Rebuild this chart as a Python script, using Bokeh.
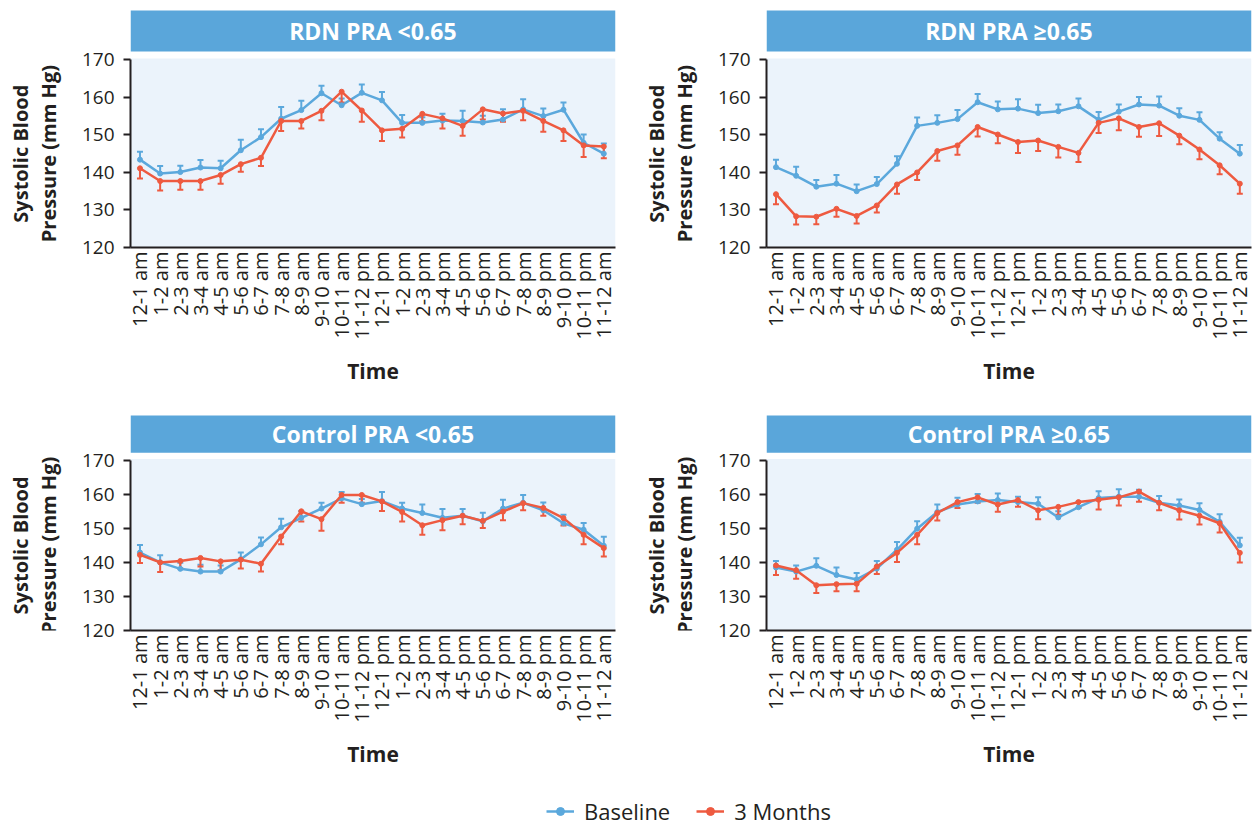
from math import pi
from bokeh.plotting import figure
from bokeh.models import (ColumnDataSource, FixedTicker, Label, Whisker, BoxAnnotation,
                          TeeHead, Legend, LegendItem, Range1d)
from bokeh.layouts import column, row
from bokeh.embed import file_html
from bokeh.resources import INLINE

hours = ["12-1 am", "1-2 am", "2-3 am", "3-4 am", "4-5 am", "5-6 am", "6-7 am", "7-8 am",
         "8-9 am", "9-10 am", "10-11 am", "11-12 pm", "12-1 pm", "1-2 pm", "2-3 pm", "3-4 pm",
         "4-5 pm", "5-6 pm", "6-7 pm", "7-8 pm", "8-9 pm", "9-10 pm", "10-11 pm", "11-12 am"]
y_ticks = [120, 130, 140, 150, 160, 170]
titles = ["RDN PRA <0.65", "RDN PRA \u22650.65", "Control PRA <0.65", "Control PRA \u22650.65"]
series_names = ["Baseline", "3 Months"]
y_title = "Systolic Blood\nPressure (mm Hg)"
x_title = "Time"

tl_base = [143.4, 139.7, 140.1, 141.3, 141.1, 145.9, 149.4, 154.3, 156.6, 161.1, 157.9, 161.2,
           159.2, 153.2, 153.2, 153.8, 153.7, 153.3, 154.1, 156.8, 155.0, 156.7, 147.9, 145.0]
tl_base_err = [2.1, 2.0, 1.7, 2.0, 2.0, 2.8, 2.1, 3.1, 2.5, 2.0, 1.8, 2.2,
               2.2, 2.1, 1.5, 1.8, 2.7, 1.8, 2.7, 2.7, 2.0, 1.9, 2.2, 2.7]
tl_3m = [141.1, 137.7, 137.7, 137.7, 139.3, 142.2, 143.9, 153.7, 153.7, 156.4, 161.5, 156.5,
         151.2, 151.6, 155.6, 154.4, 152.4, 156.8, 155.7, 156.4, 153.7, 151.2, 147.2, 146.9]
tl_3m_err = [2.7, 2.5, 2.3, 2.3, 2.3, 2.0, 2.2, 2.7, 2.0, 2.5, 2.9, 3.0,
             2.8, 2.3, 2.0, 2.7, 2.6, 2.7, 2.2, 2.5, 2.9, 2.8, 3.1, 3.1]

tr_base = [141.4, 139.1, 136.2, 137.0, 135.0, 136.9, 142.3, 152.4, 153.2, 154.2, 158.7, 156.8,
           157.0, 155.8, 156.3, 157.6, 154.0, 156.2, 158.1, 157.8, 155.1, 154.0, 149.0, 145.0]
tr_base_err = [2.0, 2.4, 1.8, 2.3, 1.8, 1.9, 2.0, 2.2, 2.0, 2.4, 2.2, 2.1,
               2.5, 2.2, 1.8, 2.1, 2.1, 1.9, 2.0, 2.4, 2.0, 2.0, 1.7, 2.3]
tr_3m = [134.2, 128.3, 128.2, 130.3, 128.4, 131.2, 136.8, 140.0, 145.7, 147.2, 152.1, 150.1,
         148.1, 148.5, 146.8, 145.2, 153.2, 154.4, 152.1, 153.1, 149.8, 146.1, 141.9, 137.0]
tr_3m_err = [2.7, 2.2, 2.0, 2.1, 2.0, 1.9, 2.5, 2.0, 2.6, 2.5, 2.5, 2.3,
             2.9, 2.8, 2.8, 2.4, 2.7, 3.2, 2.6, 3.4, 2.3, 2.6, 2.4, 2.7]

bl_base = [142.9, 140.0, 138.1, 137.3, 137.3, 140.9, 145.3, 150.3, 153.1, 155.8, 158.8, 157.1,
           158.0, 155.8, 154.5, 153.1, 153.7, 152.1, 155.8, 157.5, 155.3, 151.5, 149.6, 144.9]
bl_base_err = [2.2, 2.1, 1.8, 2.0, 1.8, 2.0, 2.0, 2.5, 2.0, 1.7, 1.9, 1.5,
               2.7, 1.7, 2.5, 2.6, 2.0, 2.5, 2.6, 2.3, 2.3, 2.5, 2.0, 2.6]
bl_3m = [142.2, 140.0, 140.4, 141.3, 140.3, 140.8, 139.6, 147.6, 155.0, 152.7, 159.8, 159.8,
         157.9, 154.8, 150.9, 152.4, 153.7, 152.2, 154.9, 157.4, 156.0, 153.0, 148.1, 144.2]
bl_3m_err = [2.4, 2.8, 2.2, 2.5, 2.6, 2.6, 2.3, 2.3, 3.0, 3.4, 2.3, 2.3,
             2.8, 2.8, 2.8, 3.0, 2.5, 2.1, 2.5, 2.1, 2.3, 2.2, 2.8, 2.5]

br_base = [138.5, 137.3, 139.0, 136.3, 135.0, 138.2, 143.7, 149.9, 154.8, 157.0, 157.9, 158.3,
           157.7, 157.2, 153.2, 156.2, 158.9, 159.3, 159.3, 157.5, 156.7, 155.4, 151.9, 145.0]
br_base_err = [1.9, 1.8, 2.2, 2.2, 1.9, 2.2, 2.3, 2.2, 2.2, 2.0, 2.2, 1.9,
               1.6, 1.9, 1.8, 1.6, 2.0, 2.2, 2.0, 2.0, 1.8, 2.0, 2.2, 2.2]
br_3m = [139.1, 137.7, 133.3, 133.6, 133.7, 138.8, 142.8, 148.1, 154.5, 157.7, 159.1, 157.0,
         158.3, 155.3, 156.3, 157.7, 158.4, 159.1, 160.8, 157.5, 155.3, 153.7, 151.5, 142.8]
br_3m_err = [2.8, 2.5, 2.3, 2.1, 2.2, 2.2, 2.7, 2.8, 2.2, 1.7, 1.6, 2.1,
             2.0, 2.6, 2.3, 1.7, 2.9, 2.4, 3.0, 2.2, 2.7, 2.6, 2.7, 2.8]

BLUE = "#5BA8DC"
RED = "#EE5A40"
BAR = "#5AA6DA"
BG = "#EBF3FB"
INK = "#231F20"
FONT = "Open Sans"

Y_TOP = 183.13      # frame top (title bar lives in the top of the frame)
BAR_BOTTOM = 172.2
BG_TOP = 170.35
YLAB_W = 70


def ylab_fig(height):
    # its frame is aligned with the neighbouring panel's frame, so share the y scale
    f = figure(width=YLAB_W, height=height, min_border=0,
               x_range=Range1d(0, YLAB_W), y_range=Range1d(120, Y_TOP),
               x_axis_location=None, y_axis_location=None,
               output_backend="svg", toolbar_location=None, tools="")
    f.outline_line_color = None
    f.grid.visible = False
    f.add_layout(Label(x=34, y=145, text=y_title, angle=pi / 2,
                       text_align="center", text_baseline="middle", text_color=INK,
                       text_font=FONT, text_font_style="bold", text_font_size="20px",
                       text_line_height=1.05))
    return f


def panel(title, base, base_err, m3, m3_err, width, right, height, bottom):
    p = figure(width=width, height=height, min_border_left=130 - YLAB_W, min_border_right=right,
               min_border_top=10, min_border_bottom=bottom,
               x_range=Range1d(-0.47, 23.58), y_range=Range1d(120, Y_TOP),
               output_backend="svg", toolbar_location=None, tools="")
    p.outline_line_color = None
    p.background_fill_color = "white"
    p.border_fill_color = "white"
    p.grid.visible = False

    p.add_layout(BoxAnnotation(bottom=120, top=BG_TOP, fill_color=BG, fill_alpha=1,
                               line_color=None, level="underlay"))
    p.add_layout(BoxAnnotation(bottom=BAR_BOTTOM, top=Y_TOP + 5, fill_color=BAR, fill_alpha=1,
                               line_color=None, level="underlay"))
    p.add_layout(Label(x=11.55, y=(BAR_BOTTOM + Y_TOP) / 2, text=title, text_align="center",
                       text_baseline="middle", text_color="white", text_font=FONT,
                       text_font_style="bold", text_font_size="23px"))

    x = list(range(len(hours)))
    for vals, errs, col, up in ((base, base_err, BLUE, True), (m3, m3_err, RED, False)):
        if up:
            ends = [v + e for v, e in zip(vals, errs)]
            src = ColumnDataSource(dict(x=x, y=vals, hi=ends, lo=vals))
        else:
            ends = [v - e for v, e in zip(vals, errs)]
            src = ColumnDataSource(dict(x=x, y=vals, hi=vals, lo=ends))
        head = TeeHead(size=6, line_color=col, line_width=2)
        w = Whisker(source=src, base="x", upper="hi", lower="lo", dimension="height",
                    line_color=col, line_width=2,
                    upper_head=head if up else None,
                    lower_head=None if up else head, level="underlay")
        p.add_layout(w)
        p.line("x", "y", source=src, line_color=col, line_width=2.5)
        p.scatter("x", "y", source=src, size=5, color=col)

    ya = p.yaxis[0]
    ya.ticker = FixedTicker(ticks=y_ticks)
    ya.bounds = (120, 170)
    ya.axis_line_color = INK
    ya.axis_line_width = 2
    ya.major_tick_line_color = INK
    ya.major_tick_line_width = 2
    ya.major_tick_out = 7
    ya.major_tick_in = 0
    ya.minor_tick_out = 0
    ya.minor_tick_in = 0
    ya.major_label_text_font = FONT
    ya.major_label_text_font_size = "19px"
    ya.major_label_text_color = INK
    ya.major_label_standoff = 9

    xa = p.xaxis[0]
    xa.ticker = FixedTicker(ticks=x)
    xa.major_label_overrides = {i: h for i, h in enumerate(hours)}
    xa.major_label_orientation = pi / 2
    xa.axis_line_color = INK
    xa.axis_line_width = 2
    xa.major_tick_out = 0
    xa.major_tick_in = 0
    xa.minor_tick_out = 0
    xa.minor_tick_in = 0
    xa.major_label_text_font = FONT
    xa.major_label_text_font_size = "20px"
    xa.major_label_text_color = INK
    xa.major_label_standoff = 4
    xa.axis_label = x_title
    xa.axis_label_text_font = FONT
    xa.axis_label_text_font_style = "bold"
    xa.axis_label_text_font_size = "21px"
    xa.axis_label_text_color = INK
    xa.axis_label_standoff = 14
    return p


H1, H2 = 405, 365
p1 = panel(titles[0], tl_base, tl_base_err, tl_3m, tl_3m_err, 636 - YLAB_W, 21, H1, 158)
p2 = panel(titles[1], tr_base, tr_base_err, tr_3m, tr_3m_err, 618 - YLAB_W, 3, H1, 158)
p3 = panel(titles[2], bl_base, bl_base_err, bl_3m, bl_3m_err, 636 - YLAB_W, 21, H2, 118)
p4 = panel(titles[3], br_base, br_base_err, br_3m, br_3m_err, 618 - YLAB_W, 3, H2, 118)

# legend strip: the series are drawn outside its visible range, only the legend shows
lf = figure(width=1254, height=58, min_border=0, x_range=Range1d(100, 101), y_range=Range1d(0, 1),
            x_axis_location=None, y_axis_location=None, output_backend="svg",
            toolbar_location=None, tools="")
lf.outline_line_color = None
lf.grid.visible = False
src_b = ColumnDataSource(dict(x=list(range(len(hours))), y=tl_base))
src_r = ColumnDataSource(dict(x=list(range(len(hours))), y=tl_3m))
lb = lf.line("x", "y", source=src_b, line_color=BLUE, line_width=2.5)
sb = lf.scatter("x", "y", source=src_b, size=6, color=BLUE)
lr = lf.line("x", "y", source=src_r, line_color=RED, line_width=2.5)
sr = lf.scatter("x", "y", source=src_r, size=6, color=RED)
leg = Legend(items=[LegendItem(label=series_names[0], renderers=[lb, sb]),
                    LegendItem(label=series_names[1], renderers=[lr, sr])],
             orientation="horizontal", location=(546, 2), padding=0, margin=0,
             spacing=26, glyph_width=28, glyph_height=20, label_standoff=10,
             border_line_color=None, background_fill_alpha=0,
             label_text_font=FONT, label_text_font_size="22px", label_text_color=INK)
lf.add_layout(leg)

layout = column(row(ylab_fig(H1), p1, ylab_fig(H1), p2),
                row(ylab_fig(H2), p3, ylab_fig(H2), p4), lf)
open("out.html", "w").write(file_html(layout, INLINE))
